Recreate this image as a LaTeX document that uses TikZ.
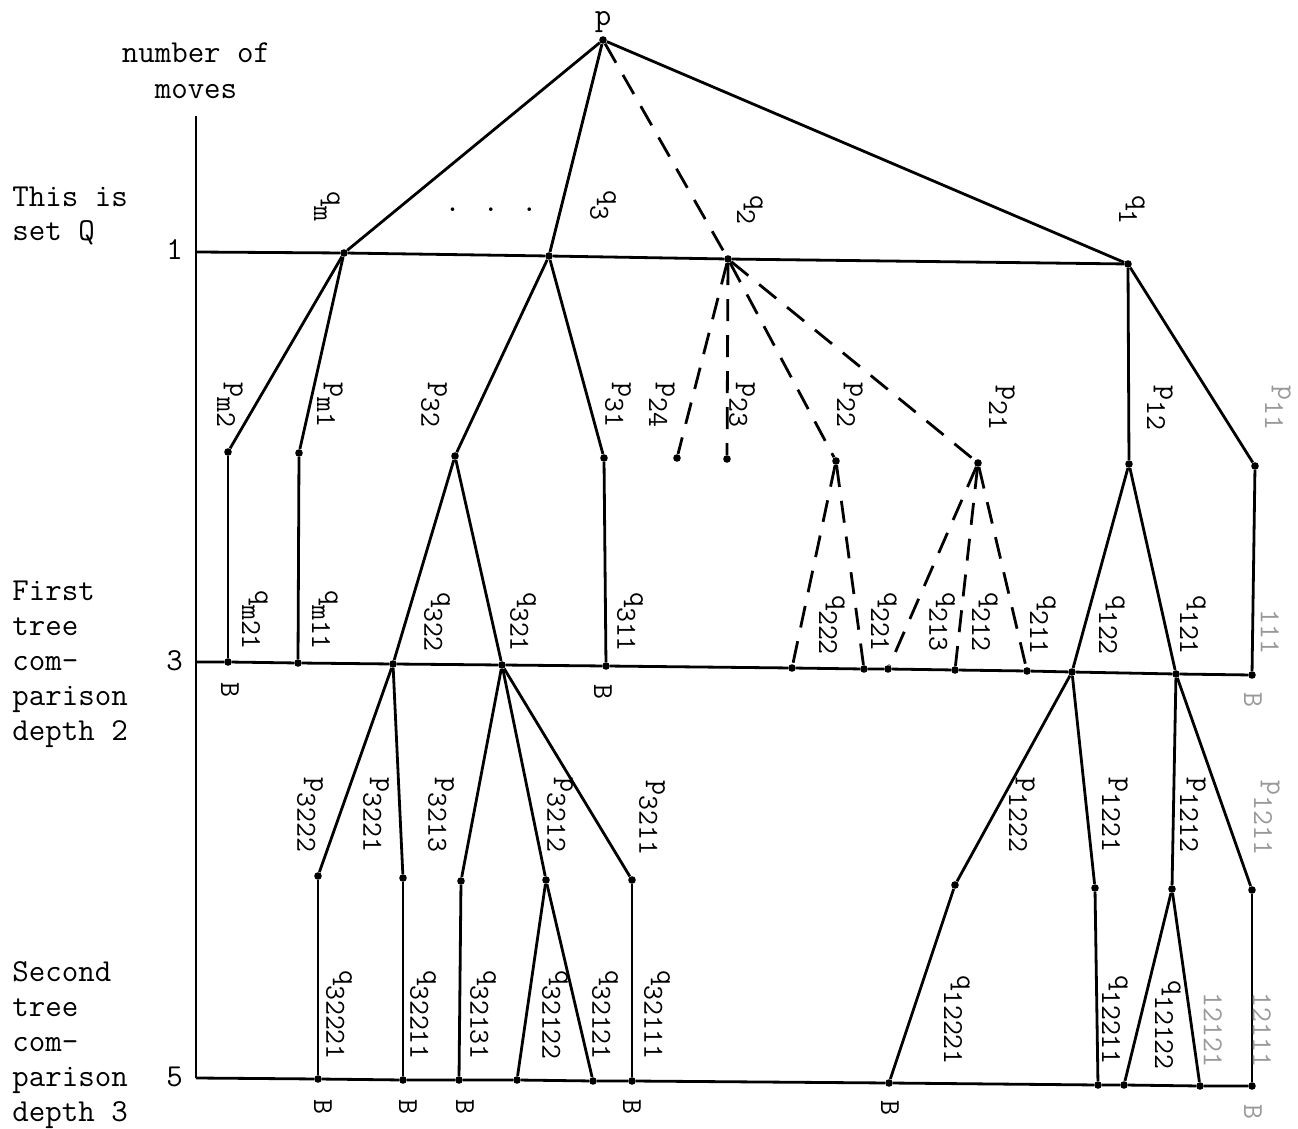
\documentclass[tikz,border=0pt]{standalone}
\newcommand{\lbl}[2]{#1\raisebox{-0.45em}{#2}}
\tikzset{
 edge/.style={line width=1.4pt},
 dedge/.style={line width=1.4pt, dash pattern=on 11pt off 7pt},
 dot/.style={circle, fill, inner sep=0pt, minimum size=3.8pt},
 lab/.style={rotate=-90, inner sep=0pt, font=\fontsize{14.5}{16}\ttfamily\selectfont},
 faint/.style={text=black!40},
 side/.style={anchor=base west, inner sep=0pt, font=\fontsize{16}{17.5}\ttfamily\selectfont},
}
\begin{document}
\begin{tikzpicture}[x=0.5pt,y=-0.5pt]
\useasboundingbox (0,0) rectangle (1298,1129);
% side texts
\node[side, anchor=base] (t1) at (196,63) {number of};
\node[side, anchor=base] (t2) at (196,99) {moves};
\node[side] (t3) at (12,206) {This is};
\node[side] (t4) at (12,241) {set Q};
\node[side] (t5) at (12,600) {First};
\node[side] (t6) at (12,635) {tree};
\node[side] (t7) at (12,670) {com-};
\node[side] (t8) at (12,705) {parison};
\node[side] (t9) at (12,740) {depth 2};
\node[side] (t10) at (12,981) {Second};
\node[side] (t11) at (12,1016) {tree};
\node[side] (t12) at (12,1051) {com-};
\node[side] (t13) at (12,1086) {parison};
\node[side] (t14) at (12,1121) {depth 3};
\node[side] (n1) at (166,260) {1};
\node[side] (n3) at (166,670) {3};
\node[side] (n5) at (166,1086) {5};
% axis
\coordinate (ax0) at (196,116);
\coordinate (ax1) at (196,252);
\coordinate (ax3) at (196,662);
\coordinate (ax5) at (196,1078);
% tree nodes
\node[dot] (p) at (603,40) {};
\node[dot] (qm) at (344,253) {};
\node[dot] (q3) at (549,256) {};
\node[dot] (q2) at (728,259) {};
\node[dot] (q1) at (1128,264) {};
\node[dot] (pm2) at (228,452) {};
\node[dot] (pm1) at (299,453) {};
\node[dot] (p32) at (455,456) {};
\node[dot] (p31) at (604,458) {};
\node[dot] (p24) at (677,458) {};
\node[dot] (p23) at (727,459) {};
\node[dot] (p22) at (836,461) {};
\node[dot] (p21) at (978,463) {};
\node[dot] (p12) at (1129,464) {};
\node[dot] (p11) at (1255,466) {};
\node[dot] (qm21) at (228,662) {};
\node[dot] (qm11) at (298,663) {};
\node[dot] (q322) at (393,664) {};
\node[dot] (q321) at (502,665) {};
\node[dot] (q311) at (606,666) {};
\node[dot] (q222) at (792,668) {};
\node[dot] (q221) at (864,669) {};
\node[dot] (q213) at (888,669) {};
\node[dot] (q212) at (955,670) {};
\node[dot] (q211) at (1027,671) {};
\node[dot] (q122) at (1072,672) {};
\node[dot] (q121) at (1176,674) {};
\node[dot] (q111) at (1252,675) {};
\node[dot] (p3222) at (318,876) {};
\node[dot] (p3221) at (403,878) {};
\node[dot] (p3213) at (461,881) {};
\node[dot] (p3212) at (546,880) {};
\node[dot] (p3211) at (632,880) {};
\node[dot] (p1222) at (955,885) {};
\node[dot] (p1221) at (1095,888) {};
\node[dot] (p1212) at (1172,889) {};
\node[dot] (p1211) at (1252,890) {};
\node[dot] (q32221) at (318,1079) {};
\node[dot] (q32211) at (403,1080) {};
\node[dot] (q32131) at (459,1080) {};
\node[dot] (q32122) at (517,1080) {};
\node[dot] (q32121) at (593,1081) {};
\node[dot] (q32111) at (632,1081) {};
\node[dot] (q12221) at (889,1083) {};
\node[dot] (q12211) at (1098,1085) {};
\node[dot] (q12122) at (1124,1085) {};
\node[dot] (q12121) at (1200,1086) {};
\node[dot] (q12111) at (1252,1086) {};
% axis and level lines
\draw[edge] (ax0) -- (ax5);
\draw[edge] (ax1) -- (qm) -- (q3) -- (q2) -- (q1);
\draw[edge] (ax3) -- (qm21) -- (qm11) -- (q322) -- (q321) -- (q311) -- (q222) -- (q221) -- (q213) -- (q212) -- (q211) -- (q122) -- (q121) -- (q111);
\draw[edge] (ax5) -- (q32221) -- (q32211) -- (q32131) -- (q32122) -- (q32121) -- (q32111) -- (q12221) -- (q12211) -- (q12122) -- (q12121) -- (q12111);
% solid edges
\draw[edge] (p) -- (qm);
\draw[edge] (p) -- (q3);
\draw[edge] (p) -- (q1);
\draw[edge] (qm) -- (pm2);
\draw[edge] (qm) -- (pm1);
\draw[edge] (q3) -- (p32);
\draw[edge] (q3) -- (p31);
\draw[edge] (q1) -- (p12);
\draw[edge] (q1) -- (p11);
\draw[edge] (pm2) -- (qm21);
\draw[edge] (pm1) -- (qm11);
\draw[edge] (p32) -- (q322);
\draw[edge] (p32) -- (q321);
\draw[edge] (p31) -- (q311);
\draw[edge] (p12) -- (q122);
\draw[edge] (p12) -- (q121);
\draw[edge] (p11) -- (q111);
\draw[edge] (q322) -- (p3222);
\draw[edge] (q322) -- (p3221);
\draw[edge] (q321) -- (p3213);
\draw[edge] (q321) -- (p3212);
\draw[edge] (q321) -- (p3211);
\draw[edge] (q122) -- (p1222);
\draw[edge] (q122) -- (p1221);
\draw[edge] (q121) -- (p1212);
\draw[edge] (q121) -- (p1211);
\draw[edge] (p3222) -- (q32221);
\draw[edge] (p3221) -- (q32211);
\draw[edge] (p3213) -- (q32131);
\draw[edge] (p3212) -- (q32122);
\draw[edge] (p3212) -- (q32121);
\draw[edge] (p3211) -- (q32111);
\draw[edge] (p1222) -- (q12221);
\draw[edge] (p1221) -- (q12211);
\draw[edge] (p1212) -- (q12122);
\draw[edge] (p1212) -- (q12121);
\draw[edge] (p1211) -- (q12111);
% dashed edges
\draw[dedge] (p) -- (q2);
\draw[dedge] (q2) -- (p24);
\draw[dedge] (q2) -- (p23);
\draw[dedge] (q2) -- (p22);
\draw[dedge] (q2) -- (p21);
\draw[dedge] (p22) -- (q222);
\draw[dedge] (p22) -- (q221);
\draw[dedge] (p21) -- (q213);
\draw[dedge] (p21) -- (q212);
\draw[dedge] (p21) -- (q211);
% labels
\node[side, anchor=base] (Lp) at (603,26) {p};
\node[lab] (Lqm) at (327,206) {\lbl{q}{m}};
\node[side, anchor=base] (ell) at (491,212) {. . .};
\node[lab] (Lq3) at (603,205) {\lbl{q}{3}};
\node[lab] (Lq2) at (750,210) {\lbl{q}{2}};
\node[lab] (Lq1) at (1132,210) {\lbl{q}{1}};
\node[lab] (Lpm2) at (230,405) {\lbl{p}{m2}};
\node[lab] (Lpm1) at (330,405) {\lbl{p}{m1}};
\node[lab] (Lp32) at (434,405) {\lbl{p}{32}};
\node[lab] (Lp31) at (618,405) {\lbl{p}{31}};
\node[lab] (Lp24) at (662,405) {\lbl{p}{24}};
\node[lab] (Lp23) at (742,405) {\lbl{p}{23}};
\node[lab] (Lp22) at (850,405) {\lbl{p}{22}};
\node[lab] (Lp21) at (1002,408) {\lbl{p}{21}};
\node[lab] (Lp12) at (1160,408) {\lbl{p}{12}};
\node[lab, faint] (Lp11) at (1278,408) {\lbl{p}{11}};
\node[lab] (Lqm21) at (255,620) {\lbl{q}{m21}};
\node[lab] (Lqm11) at (325,620) {\lbl{q}{m11}};
\node[lab] (Lq322) at (437,622) {\lbl{q}{322}};
\node[lab] (Lq321) at (523,622) {\lbl{q}{321}};
\node[lab] (Lq311) at (630,622) {\lbl{q}{311}};
\node[lab] (Lq222) at (832,625) {\lbl{q}{222}};
\node[lab] (Lq221) at (884,622) {\lbl{q}{221}};
\node[lab] (Lq213) at (942,622) {\lbl{q}{213}};
\node[lab] (Lq212) at (985,622) {\lbl{q}{212}};
\node[lab] (Lq211) at (1043,625) {\lbl{q}{211}};
\node[lab] (Lq122) at (1112,625) {\lbl{q}{122}};
\node[lab] (Lq121) at (1193,625) {\lbl{q}{121}};
\node[lab, faint] (Lq111) at (1270,632) {111};
\node[lab] (Lp3222) at (310,815) {\lbl{p}{3222}};
\node[lab] (Lp3221) at (376,815) {\lbl{p}{3221}};
\node[lab] (Lp3213) at (441,815) {\lbl{p}{3213}};
\node[lab] (Lp3212) at (560,815) {\lbl{p}{3212}};
\node[lab] (Lp3211) at (652,818) {\lbl{p}{3211}};
\node[lab] (Lp1222) at (1022,815) {\lbl{p}{1222}};
\node[lab] (Lp1221) at (1115,815) {\lbl{p}{1221}};
\node[lab] (Lp1212) at (1193,815) {\lbl{p}{1212}};
\node[lab, faint] (Lp1211) at (1267,818) {\lbl{p}{1211}};
\node[lab] (Lq32221) at (339,1015) {\lbl{q}{32221}};
\node[lab] (Lq32211) at (423,1015) {\lbl{q}{32211}};
\node[lab] (Lq32131) at (483,1015) {\lbl{q}{32131}};
\node[lab] (Lq32122) at (555,1015) {\lbl{q}{32122}};
\node[lab] (Lq32121) at (605,1015) {\lbl{q}{32121}};
\node[lab] (Lq32111) at (657,1015) {\lbl{q}{32111}};
\node[lab] (Lq12221) at (957,1020) {\lbl{q}{12221}};
\node[lab] (Lq12211) at (1115,1020) {\lbl{q}{12211}};
\node[lab] (Lq12122) at (1168,1025) {\lbl{q}{12122}};
\node[lab, faint] (Lq12121) at (1213,1030) {12121};
\node[lab, faint] (Lq12111) at (1262,1030) {12111};
% B labels
\node[lab] (B1) at (230,690) {B};
\node[lab] (B2) at (603,692) {B};
\node[lab, faint] (B3) at (1253,700) {B};
\node[lab] (B4) at (323,1107) {B};
\node[lab] (B5) at (408,1107) {B};
\node[lab] (B6) at (465,1107) {B};
\node[lab] (B7) at (632,1107) {B};
\node[lab] (B8) at (890,1108) {B};
\node[lab, faint] (B9) at (1253,1112) {B};
\end{tikzpicture}
\end{document}
